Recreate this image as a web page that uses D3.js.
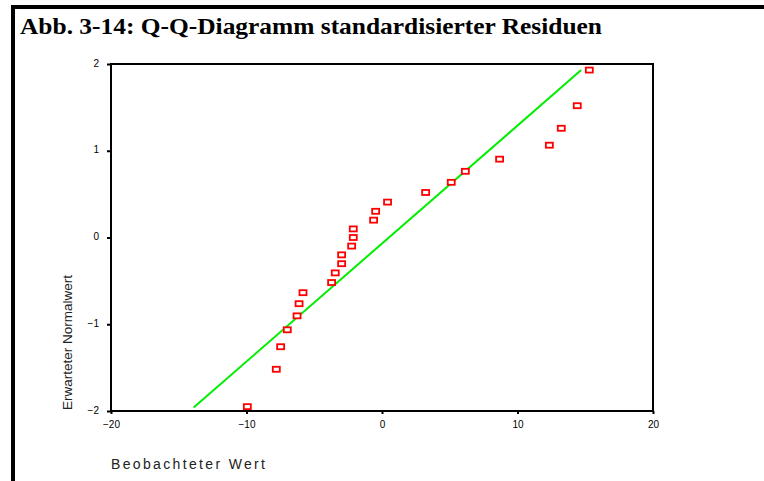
<!DOCTYPE html>
<html>
<head>
<meta charset="utf-8">
<script src="https://cdn.jsdelivr.net/npm/d3@7"></script>
<style>
  body { margin: 0; background: #fff; }
  svg { display: block; }
</style>
</head>
<body>
<div class="svg_container"></div>
<script>
// Beobachtete Residuen (x) und erwartete Normalwerte (y)
var observed = [-9.94, -7.80, -7.48, -6.99, -6.27, -6.12, -5.83, -3.72, -3.45, -2.98,
                -2.98, -2.24, -2.12, -2.12, -0.62, -0.47, 0.41, 3.22, 5.11, 6.15,
                8.68, 12.35, 13.23, 14.41, 15.30];
var expected = [-1.95, -1.519, -1.259, -1.064, -0.903, -0.763, -0.636, -0.519, -0.408, -0.302,
                -0.200, -0.099, 0.000, 0.099, 0.200, 0.302, 0.408, 0.519, 0.636, 0.763,
                0.903, 1.064, 1.259, 1.519, 1.93];
// Referenzlinie
var lineX = [-13.9, 14.7];
var lineY = [-1.96, 1.93];

var xTicks = [-20, -10, 0, 10, 20];
var yTicks = [-2, -1, 0, 1, 2];

var W = 764, H = 481;

var svg = d3.select("div.svg_container")
    .append("svg")
        .attr("width", W)
        .attr("height", H);

// Rahmen oben und links
svg.append("line")
    .attr("x1", 11).attr("x2", W).attr("y1", 7).attr("y2", 7)
    .attr("stroke", "#000").attr("stroke-width", 4);
svg.append("line")
    .attr("x1", 13).attr("x2", 13).attr("y1", 5).attr("y2", H)
    .attr("stroke", "#000").attr("stroke-width", 4);

// Titel
svg.append("text")
    .attr("x", 20)
    .attr("y", 34)
    .attr("textLength", 582)
    .attr("lengthAdjust", "spacingAndGlyphs")
    .style("font-family", "'Liberation Serif', 'DejaVu Serif', serif")
    .style("font-weight", "bold")
    .style("font-size", "23px")
    .text("Abb. 3-14: Q-Q-Diagramm standardisierter Residuen");

var x = d3.scaleLinear().domain([-20, 20]).range([111, 653]);
var y = d3.scaleLinear().domain([-2, 2]).range([411, 64]);

// Plotrahmen
svg.append("rect")
    .attr("x", x(-20))
    .attr("y", y(2))
    .attr("width", x(20) - x(-20))
    .attr("height", y(-2) - y(2))
    .attr("fill", "none")
    .attr("stroke", "#000")
    .attr("stroke-width", 2);

// Achsen
var xAxis = svg.append("g")
    .attr("transform", "translate(0," + y(-2) + ")")
    .call(d3.axisBottom(x).tickValues(xTicks).tickSize(3).tickPadding(7).tickFormat(d3.format("d")));
var yAxis = svg.append("g")
    .attr("transform", "translate(" + x(-20) + ",0)")
    .call(d3.axisLeft(y).tickValues(yTicks).tickSize(4).tickPadding(8).tickFormat(d3.format("d")));

[xAxis, yAxis].forEach(function(a) {
    a.select(".domain").remove();
    a.selectAll("line").attr("stroke", "#000").attr("stroke-width", 2);
    a.selectAll("text")
        .style("font-family", "'Liberation Sans', Arial, sans-serif")
        .style("font-size", "10px")
        .attr("fill", "#000");
});
yAxis.selectAll("text").attr("dy", "0.2em");

// Referenzlinie
svg.append("line")
    .attr("x1", x(lineX[0])).attr("y1", y(lineY[0]))
    .attr("x2", x(lineX[1])).attr("y2", y(lineY[1]))
    .attr("stroke", "#00ee00")
    .attr("stroke-width", 2);

// Punkte
svg.selectAll("rect.pt")
    .data(observed)
    .enter()
    .append("rect")
        .attr("class", "pt")
        .attr("x", function(d) { return x(d) - 3.5; })
        .attr("y", function(d, i) { return y(expected[i]) - 2.5; })
        .attr("width", 7)
        .attr("height", 5)
        .attr("fill", "#fff")
        .attr("stroke", "#ff0000")
        .attr("stroke-width", 1.8);

// Achsentitel
svg.append("text")
    .attr("x", 111)
    .attr("y", 469)
    .attr("textLength", 154)
    .attr("lengthAdjust", "spacing")
    .style("font-family", "'Liberation Sans', Arial, sans-serif")
    .style("font-size", "14px")
    .attr("fill", "#222")
    .text("Beobachteter Wert");

svg.append("text")
    .attr("transform", "translate(67,410) rotate(-90)")
    .attr("dy", "0.35em")
    .attr("textLength", 135)
    .attr("lengthAdjust", "spacing")
    .style("font-family", "'Liberation Sans', Arial, sans-serif")
    .style("font-size", "13.5px")
    .attr("fill", "#222")
    .text("Erwarteter Normalwert");
</script>
</body>
</html>
